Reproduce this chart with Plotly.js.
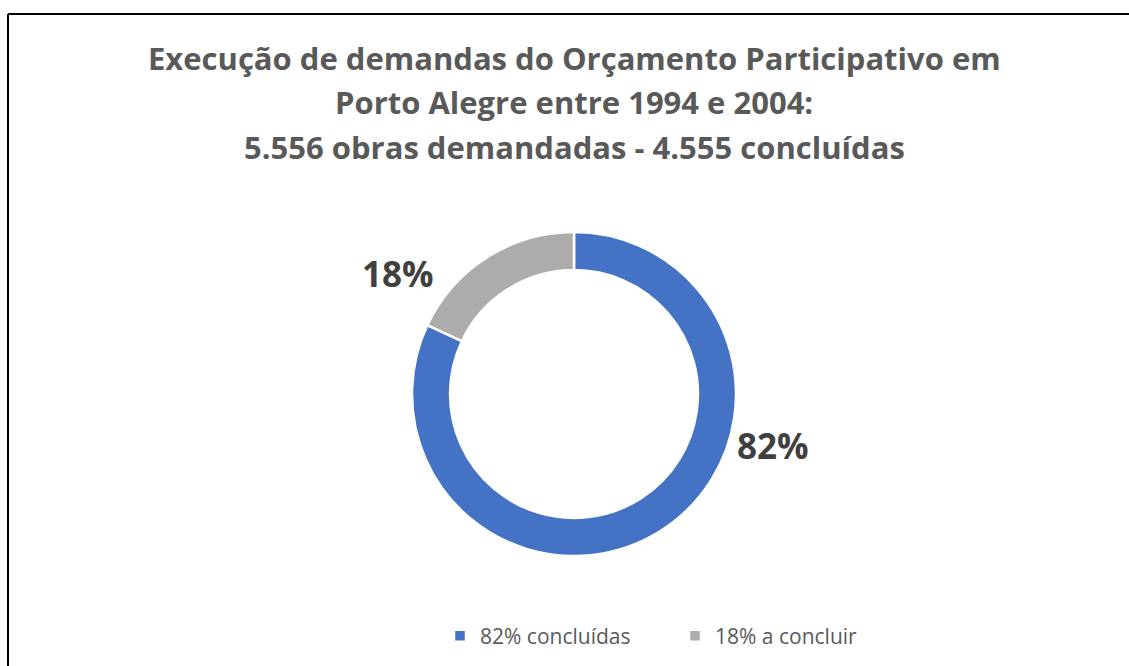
<!DOCTYPE html>
<html><head><meta charset="utf-8">
<script src="https://cdn.plot.ly/plotly-3.0.1.min.js"></script>
<style>html,body{margin:0;padding:0;background:#fff}#chart{width:1129px;height:666px}</style>
</head><body><div id="chart"></div>
<script>
const categories = ["82% concluídas", "18% a concluir"];
const values = [82, 18];
const sliceLabels = ["82%", "18%"];
const colors = ["#4472C4", "#AEABAB"];
const titleLines = ["Execução de demandas do Orçamento Participativo em", "Porto Alegre entre 1994 e 2004:", "5.556 obras demandadas - 4.555 concluídas"];

const W = 1129, H = 666;
const cx = 574, cy = 394, R = 162;
const px = x => x / W, py = y => 1 - y / H;

const trace = {
  type: "pie",
  labels: categories,
  values: values,
  sort: false,
  direction: "clockwise",
  rotation: 0,
  hole: 0.765,
  textinfo: "none",
  hoverinfo: "label+value",
  marker: {colors: colors, line: {color: "#ffffff", width: 2.5}},
  domain: {x: [px(cx - R), px(cx + R)], y: [py(cy + R), py(cy - R)]}
};

const labelPos = [[773, 445], [398, 273]];
const annotations = sliceLabels.map((t, i) => ({
  text: t, x: px(labelPos[i][0]), y: py(labelPos[i][1]), xref: "paper", yref: "paper",
  showarrow: false, xanchor: "center", yanchor: "middle",
  font: {family: "Open Sans", size: 35, color: "#404040", weight: 700}
}));
const titleY = [58, 102, 147];
titleLines.forEach((t, i) => annotations.push({
  text: t, x: px(574), y: py(titleY[i]), xref: "paper", yref: "paper",
  showarrow: false, xanchor: "center", yanchor: "middle",
  font: {family: "Open Sans", size: 31, color: "#595959", weight: 700}
}));

const layout = {
  width: W, height: H,
  margin: {l: 0, r: 0, t: 0, b: 0},
  paper_bgcolor: "#ffffff",
  showlegend: true,
  legend: {
    orientation: "h", x: px(675), xanchor: "center", y: py(636), yanchor: "middle",
    font: {family: "Open Sans", size: 21, color: "#595959"},
    entrywidth: 190, entrywidthmode: "pixels", tracegroupgap: 0, itemclick: false
  },
  annotations: annotations,
  shapes: [
    {type: "line", xref: "paper", yref: "paper", x0: px(8), x1: px(8), y0: py(14), y1: 0, line: {color: "#000", width: 2}},
    {type: "line", xref: "paper", yref: "paper", x0: px(8), x1: 1, y0: py(14), y1: py(14), line: {color: "#000", width: 2}}
  ]
};

Plotly.newPlot("chart", [trace], layout, {displayModeBar: false, staticPlot: true});
</script></body></html>
